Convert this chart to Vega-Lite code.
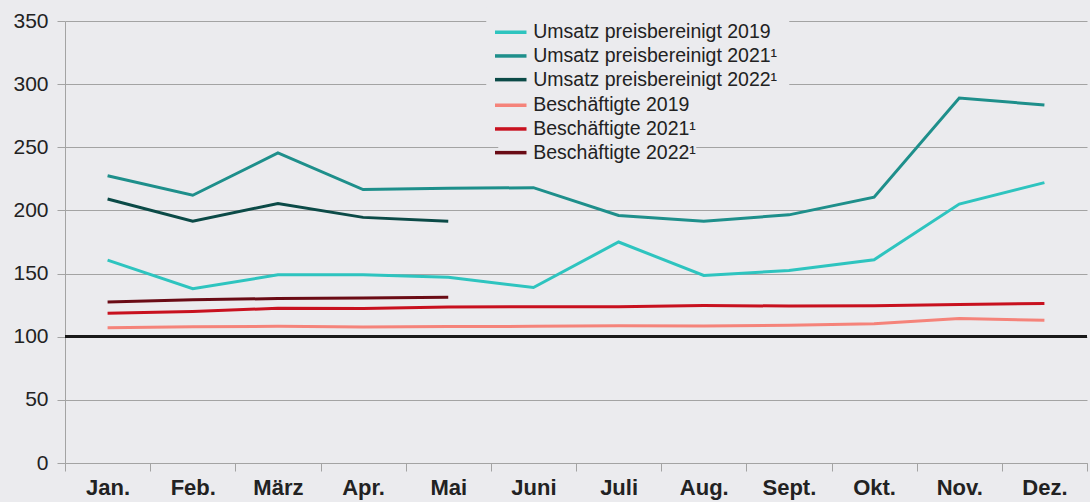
{
  "$schema": "https://vega.github.io/schema/vega-lite/v6.json",
  "autosize": "none",
  "width": 1022,
  "height": 442,
  "padding": {"left": 65, "top": 21, "right": 3, "bottom": 39},
  "background": "#ebebee",
  "config": {
    "view": {"stroke": null},
    "font": "Liberation Sans"
  },
  "data": {
    "values": [
      {"m": "Jan.", "s": "Umsatz preisbereinigt 2019", "v": 160.6},
      {"m": "Feb.", "s": "Umsatz preisbereinigt 2019", "v": 138},
      {"m": "März", "s": "Umsatz preisbereinigt 2019", "v": 149},
      {"m": "Apr.", "s": "Umsatz preisbereinigt 2019", "v": 149},
      {"m": "Mai", "s": "Umsatz preisbereinigt 2019", "v": 147},
      {"m": "Juni", "s": "Umsatz preisbereinigt 2019", "v": 139},
      {"m": "Juli", "s": "Umsatz preisbereinigt 2019", "v": 175},
      {"m": "Aug.", "s": "Umsatz preisbereinigt 2019", "v": 148.5},
      {"m": "Sept.", "s": "Umsatz preisbereinigt 2019", "v": 152.5},
      {"m": "Okt.", "s": "Umsatz preisbereinigt 2019", "v": 161},
      {"m": "Nov.", "s": "Umsatz preisbereinigt 2019", "v": 205},
      {"m": "Dez.", "s": "Umsatz preisbereinigt 2019", "v": 222},
      {"m": "Jan.", "s": "Umsatz preisbereinigt 2021¹", "v": 227.5},
      {"m": "Feb.", "s": "Umsatz preisbereinigt 2021¹", "v": 212},
      {"m": "März", "s": "Umsatz preisbereinigt 2021¹", "v": 245.5},
      {"m": "Apr.", "s": "Umsatz preisbereinigt 2021¹", "v": 216.5},
      {"m": "Mai", "s": "Umsatz preisbereinigt 2021¹", "v": 217.5},
      {"m": "Juni", "s": "Umsatz preisbereinigt 2021¹", "v": 218},
      {"m": "Juli", "s": "Umsatz preisbereinigt 2021¹", "v": 196},
      {"m": "Aug.", "s": "Umsatz preisbereinigt 2021¹", "v": 191.5},
      {"m": "Sept.", "s": "Umsatz preisbereinigt 2021¹", "v": 196.5},
      {"m": "Okt.", "s": "Umsatz preisbereinigt 2021¹", "v": 210.5},
      {"m": "Nov.", "s": "Umsatz preisbereinigt 2021¹", "v": 289},
      {"m": "Dez.", "s": "Umsatz preisbereinigt 2021¹", "v": 283.5},
      {"m": "Jan.", "s": "Umsatz preisbereinigt 2022¹", "v": 209},
      {"m": "Feb.", "s": "Umsatz preisbereinigt 2022¹", "v": 191.5},
      {"m": "März", "s": "Umsatz preisbereinigt 2022¹", "v": 205.5},
      {"m": "Apr.", "s": "Umsatz preisbereinigt 2022¹", "v": 194.5},
      {"m": "Mai", "s": "Umsatz preisbereinigt 2022¹", "v": 191.5},
      {"m": "Jan.", "s": "Beschäftigte 2019", "v": 107},
      {"m": "Feb.", "s": "Beschäftigte 2019", "v": 107.8},
      {"m": "März", "s": "Beschäftigte 2019", "v": 108.3},
      {"m": "Apr.", "s": "Beschäftigte 2019", "v": 107.6},
      {"m": "Mai", "s": "Beschäftigte 2019", "v": 108.1},
      {"m": "Juni", "s": "Beschäftigte 2019", "v": 108.2},
      {"m": "Juli", "s": "Beschäftigte 2019", "v": 108.7},
      {"m": "Aug.", "s": "Beschäftigte 2019", "v": 108.5},
      {"m": "Sept.", "s": "Beschäftigte 2019", "v": 109},
      {"m": "Okt.", "s": "Beschäftigte 2019", "v": 110.3},
      {"m": "Nov.", "s": "Beschäftigte 2019", "v": 114.5},
      {"m": "Dez.", "s": "Beschäftigte 2019", "v": 113},
      {"m": "Jan.", "s": "Beschäftigte 2021¹", "v": 118.5},
      {"m": "Feb.", "s": "Beschäftigte 2021¹", "v": 120},
      {"m": "März", "s": "Beschäftigte 2021¹", "v": 122.5},
      {"m": "Apr.", "s": "Beschäftigte 2021¹", "v": 122.3},
      {"m": "Mai", "s": "Beschäftigte 2021¹", "v": 123.5},
      {"m": "Juni", "s": "Beschäftigte 2021¹", "v": 123.8},
      {"m": "Juli", "s": "Beschäftigte 2021¹", "v": 123.8},
      {"m": "Aug.", "s": "Beschäftigte 2021¹", "v": 124.7},
      {"m": "Sept.", "s": "Beschäftigte 2021¹", "v": 124.3},
      {"m": "Okt.", "s": "Beschäftigte 2021¹", "v": 124.5},
      {"m": "Nov.", "s": "Beschäftigte 2021¹", "v": 125.5},
      {"m": "Dez.", "s": "Beschäftigte 2021¹", "v": 126.3},
      {"m": "Jan.", "s": "Beschäftigte 2022¹", "v": 127.5},
      {"m": "Feb.", "s": "Beschäftigte 2022¹", "v": 129.3},
      {"m": "März", "s": "Beschäftigte 2022¹", "v": 130.2},
      {"m": "Apr.", "s": "Beschäftigte 2022¹", "v": 130.7},
      {"m": "Mai", "s": "Beschäftigte 2022¹", "v": 131.3}
    ]
  },
  "layer": [
    {
      "transform": [{"filter": "indexof(datum.s, 'Umsatz') === 0"}],
      "mark": {"type": "line", "strokeWidth": 3},
      "encoding": {
        "x": {
          "field": "m",
          "type": "nominal",
          "scale": {"domain": ["Jan.", "Feb.", "März", "Apr.", "Mai", "Juni", "Juli", "Aug.", "Sept.", "Okt.", "Nov.", "Dez."], "paddingInner": 0, "paddingOuter": 0},
          "axis": {
            "title": null,
            "labelAngle": 0,
            "tickBand": "extent",
            "domainColor": "#a3a3a3",
            "tickColor": "#a3a3a3",
            "tickSize": 8,
            "labelFontSize": 22,
            "labelFontWeight": "bold",
            "labelColor": "#222222",
            "labelPadding": 6,
            "grid": false
          }
        },
        "y": {
          "field": "v",
          "type": "quantitative",
          "scale": {"domain": [0, 350], "nice": false},
          "axis": {
            "title": null,
            "values": [0, 50, 100, 150, 200, 250, 300, 350],
            "grid": true,
            "gridColor": "#a3a3a3",
            "gridWidth": 1.2,
            "domainColor": "#a3a3a3",
            "tickColor": "#a3a3a3",
            "tickSize": 8,
            "labelFontSize": 21,
            "labelColor": "#222222",
            "labelPadding": 9
          }
        },
        "color": {
          "field": "s",
          "type": "nominal",
          "scale": {"domain": ["Umsatz preisbereinigt 2019", "Umsatz preisbereinigt 2021¹", "Umsatz preisbereinigt 2022¹"], "range": ["#2ec4bf", "#1e8f8b", "#0b4a47"]},
          "legend": {
            "title": null,
            "orient": "none",
            "legendX": 421.25,
            "legendY": -13.25,
            "padding": 12,
            "zindex": 1,
            "fillColor": "#ebebee",
            "symbolType": "M-1.5,0H1.5",
            "symbolSize": 441,
            "symbolStrokeWidth": 3.5,
            "labelFontSize": 19.5,
            "labelColor": "#222222",
            "labelOffset": 10,
            "labelLimit": 600,
            "rowPadding": 1.7,
            "offset": 0
          }
        }
      }
    },
    {
      "transform": [{"filter": "indexof(datum.s, 'Besch') === 0"}],
      "mark": {"type": "line", "strokeWidth": 3},
      "encoding": {
        "x": {"field": "m", "type": "nominal"},
        "y": {"field": "v", "type": "quantitative"},
        "color": {
          "field": "s",
          "type": "nominal",
          "scale": {"domain": ["Beschäftigte 2019", "Beschäftigte 2021¹", "Beschäftigte 2022¹"], "range": ["#f5837a", "#c8111f", "#6a0b15"]},
          "legend": {
            "title": null,
            "orient": "none",
            "legendX": 433.25,
            "legendY": 71.75,
            "padding": 0,
            "zindex": 2,
            "fillColor": "#ebebee",
            "symbolType": "M-1.5,0H1.5",
            "symbolSize": 441,
            "symbolStrokeWidth": 3.5,
            "labelFontSize": 19.5,
            "labelColor": "#222222",
            "labelOffset": 10,
            "labelLimit": 600,
            "rowPadding": 1.7,
            "offset": 0
          }
        }
      }
    },
    {
      "mark": {"type": "rule", "color": "#1a1a1a", "strokeWidth": 2},
      "encoding": {"y": {"datum": 100}}
    }
  ],
  "resolve": {"scale": {"color": "independent"}}
}
